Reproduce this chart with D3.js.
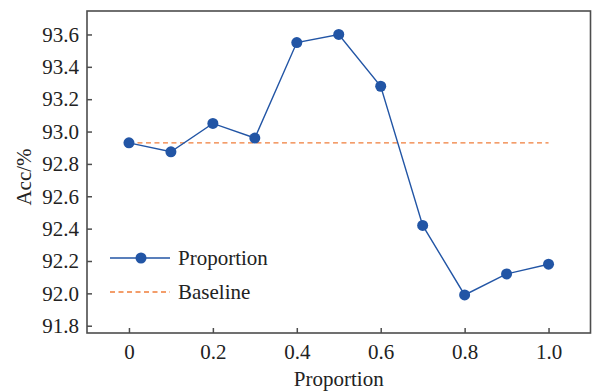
<!DOCTYPE html>
<html>
<head>
<meta charset="utf-8">
<script src="https://cdn.jsdelivr.net/npm/d3@7"></script>
<style>
  html, body { margin: 0; padding: 0; background: #fff; }
  svg { display: block; font-family: "Liberation Serif", "Times New Roman", serif; }
</style>
</head>
<body>
<div id="chart"></div>
<script>
// data
const proportions = [0, 0.1, 0.2, 0.3, 0.4, 0.5, 0.6, 0.7, 0.8, 0.9, 1.0];
const accValues = [92.93, 92.875, 93.05, 92.96, 93.55, 93.60, 93.28, 92.42, 91.99, 92.12, 92.18];
const baselineValue = 92.93;
const xTicks = [0, 0.2, 0.4, 0.6, 0.8, 1.0];
const yTicks = [91.8, 92.0, 92.2, 92.4, 92.6, 92.8, 93.0, 93.2, 93.4, 93.6];

const W = 595, H = 391;
const margin = { top: 11, right: 4.5, bottom: 58, left: 87 };
const width = W - margin.left - margin.right;
const height = H - margin.top - margin.bottom;

const axisColor = "#4d4d4d";
const textColor = "#222";
const lineColor = "#2255a5";
const baseColor = "#f07d3a";
const fontSize = 21;

const x = d3.scaleLinear().domain([-0.1, 1.1]).range([0, width]);
const y = d3.scaleLinear().domain([91.755, 93.745]).range([height, 0]);

const svg = d3.select("#chart").append("svg")
  .attr("width", W)
  .attr("height", H)
  .append("g")
  .attr("transform", `translate(${margin.left},${margin.top})`);

// frame
svg.append("rect")
  .attr("width", width)
  .attr("height", height)
  .attr("fill", "none")
  .attr("stroke", axisColor)
  .attr("stroke-width", 1.6);

// axes, ticks pointing inward
const xAxis = svg.append("g")
  .attr("transform", `translate(0,${height})`)
  .call(d3.axisBottom(x).tickValues(xTicks)
    .tickFormat(d => d === 0 ? "0" : d3.format(".1f")(d))
    .tickSize(-5).tickPadding(11));

const yAxis = svg.append("g")
  .call(d3.axisLeft(y).tickValues(yTicks)
    .tickFormat(d3.format(".1f"))
    .tickSize(-5).tickPadding(8));

[xAxis, yAxis].forEach(a => {
  a.select(".domain").remove();
  a.selectAll(".tick line").attr("stroke", axisColor).attr("stroke-width", 1.5);
  a.selectAll(".tick text")
    .attr("fill", textColor)
    .style("font-size", `${fontSize}px`)
    .style("font-family", "Liberation Serif, serif");
});

// axis titles
svg.append("text")
  .attr("x", width / 2)
  .attr("y", height + 53)
  .attr("text-anchor", "middle")
  .attr("fill", textColor)
  .style("font-size", `${fontSize}px`)
  .text("Proportion");

svg.append("text")
  .attr("transform", `translate(${24 - margin.left},${177 - margin.top}) rotate(-90)`)
  .attr("text-anchor", "middle")
  .attr("dy", "0.35em")
  .attr("fill", textColor)
  .style("font-size", `${fontSize}px`)
  .text("Acc/%");

// baseline
svg.append("line")
  .attr("x1", x(proportions[0]))
  .attr("x2", x(proportions[proportions.length - 1]))
  .attr("y1", y(baselineValue))
  .attr("y2", y(baselineValue))
  .attr("stroke", baseColor)
  .attr("stroke-width", 1.3)
  .attr("stroke-dasharray", "5,3.5");

// proportion line
const line = d3.line()
  .x((d, i) => x(proportions[i]))
  .y(d => y(d));

svg.append("path")
  .datum(accValues)
  .attr("fill", "none")
  .attr("stroke", lineColor)
  .attr("stroke-width", 1.4)
  .attr("d", line);

svg.selectAll(".dot")
  .data(accValues)
  .enter()
  .append("circle")
  .attr("class", "dot")
  .attr("cx", (d, i) => x(proportions[i]))
  .attr("cy", d => y(d))
  .attr("r", 5.5)
  .attr("fill", lineColor);

// legend
const legend = svg.append("g").attr("transform", `translate(${110 - margin.left},0)`);
const legY1 = 258 - margin.top, legY2 = 292 - margin.top;

legend.append("line")
  .attr("x1", 0).attr("x2", 60)
  .attr("y1", legY1).attr("y2", legY1)
  .attr("stroke", lineColor).attr("stroke-width", 1.4);
legend.append("circle")
  .attr("cx", 31).attr("cy", legY1).attr("r", 5.5).attr("fill", lineColor);
legend.append("text")
  .attr("x", 68).attr("y", legY1).attr("dy", "0.35em")
  .attr("fill", textColor).style("font-size", `${fontSize}px`)
  .text("Proportion");

legend.append("line")
  .attr("x1", 0).attr("x2", 60)
  .attr("y1", legY2).attr("y2", legY2)
  .attr("stroke", baseColor).attr("stroke-width", 1.3)
  .attr("stroke-dasharray", "5,3.5");
legend.append("text")
  .attr("x", 68).attr("y", legY2).attr("dy", "0.35em")
  .attr("fill", textColor).style("font-size", `${fontSize}px`)
  .text("Baseline");
</script>
</body>
</html>
